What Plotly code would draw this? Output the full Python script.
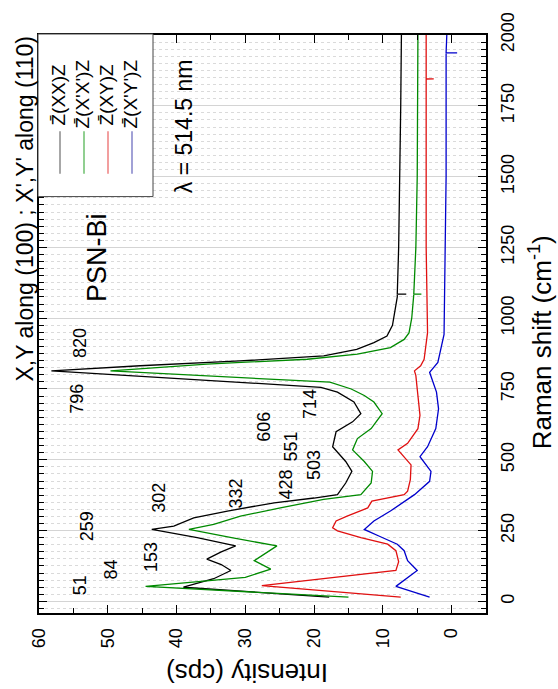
import plotly.graph_objects as go

# ---- data ----
raman_xx = [15, 50, 80, 109, 130, 149, 175, 196, 225, 254, 266, 295, 319, 348, 365, 377, 418, 459, 494, 546, 599, 634, 663, 704, 739, 756, 814, 832, 849, 867, 890, 914, 937, 975, 1075, 1084, 1085, 1086, 1250, 1500, 1750, 2000]
int_xx = [17.8, 39.0, 34.6, 32.1, 33.5, 35.6, 33.5, 31.4, 37.0, 43.6, 40.4, 37.5, 32.6, 25.8, 20.0, 16.6, 15.4, 14.5, 15.4, 17.3, 16.8, 14.4, 13.2, 14.2, 16.6, 19.0, 58.2, 45.3, 30.8, 18.6, 13.8, 11.3, 9.4, 8.6, 7.9, 7.9, 6.6, 7.9, 7.7, 7.5, 7.4, 7.3]

raman_xpxp = [15, 53, 85, 114, 144, 170, 196, 225, 254, 272, 301, 330, 360, 377, 418, 459, 494, 535, 575, 610, 663, 704, 727, 750, 774, 814, 838, 855, 873, 896, 925, 948, 1000, 1084, 1085, 1086, 1250, 1500, 2000]
int_xpxp = [15.0, 44.5, 30.0, 26.3, 28.7, 27.0, 25.4, 32.0, 38.2, 34.6, 30.7, 24.9, 18.6, 13.2, 11.7, 11.5, 12.7, 14.4, 13.7, 11.7, 10.1, 11.3, 12.7, 14.6, 17.7, 49.6, 35.6, 21.0, 13.7, 8.9, 6.9, 6.2, 5.8, 5.5, 4.4, 5.5, 5.2, 5.0, 4.9]

raman_xy = [15, 56, 109, 140, 179, 202, 225, 249, 260, 284, 301, 330, 354, 377, 389, 430, 482, 535, 558, 610, 657, 715, 750, 797, 814, 832, 855, 949, 1250, 1500, 1844, 1845, 1846, 2000]
int_xy = [7.4, 27.6, 8.1, 7.7, 8.1, 9.3, 13.2, 16.6, 17.3, 16.8, 15.2, 12.2, 11.6, 6.9, 6.4, 6.0, 5.9, 7.8, 6.4, 4.9, 4.6, 4.8, 5.0, 5.2, 5.4, 4.5, 4.0, 3.5, 3.7, 3.7, 3.7, 2.6, 3.7, 3.7]

raman_xpyp = [15, 53, 109, 144, 179, 202, 230, 254, 284, 319, 377, 424, 459, 511, 546, 610, 680, 739, 809, 844, 943, 1250, 1500, 1936, 1937, 1938, 2000]
int_xpyp = [3.2, 8.1, 5.0, 6.4, 6.9, 7.9, 10.5, 12.7, 11.3, 8.9, 5.4, 3.2, 3.0, 4.6, 3.5, 2.3, 1.9, 2.2, 3.2, 2.0, 1.1, 0.9, 0.8, 0.8, -0.8, 0.8, 0.7]

series_names = ["Z\u0304(XX)Z", "Z\u0304(X'X')Z", "Z\u0304(XY)Z", "Z\u0304(X'Y')Z"]
series_raman = [raman_xx, raman_xpxp, raman_xy, raman_xpyp]
series_int = [int_xx, int_xpxp, int_xy, int_xpyp]
series_colors = ["#000000", "#008a00", "#e01010", "#0000cc"]
legend_colors = ["#8a8a8a", "#6cbf6c", "#ee7f7f", "#8282c8"]

peak_labels = ["51", "84", "153", "259", "302", "332", "428", "503", "551", "606", "714", "796", "820"]
peak_label_int = [54.0, 49.6, 43.8, 53.0, 42.6, 31.4, 24.1, 20.0, 23.4, 27.3, 20.7, 54.5, 54.0]
peak_label_raman = [58, 111, 158, 266, 365, 380, 412, 482, 546, 616, 698, 715, 913]

int_ticks = [0, 10, 20, 30, 40, 50, 60]
raman_ticks = [0, 250, 500, 750, 1000, 1250, 1500, 1750, 2000]

FONT = "Arial, 'Liberation Sans', sans-serif"

fig = go.Figure()
for nm, rr, ii, col in zip(series_names, series_raman, series_int, series_colors):
    fig.add_trace(go.Scatter(x=ii, y=rr, mode="lines", name=nm,
                             line=dict(color=col, width=1.3), showlegend=False))

# plot area in pixels: x 39..486, y 30..613
L, R, T, B = 39, 486, 30, 613
W, H = R - L, B - T
def px(x):
    return (x - L) / W
def py(y):
    return (B - y) / H

def txt(text, x, y, size, angle=-90):
    return dict(text=text, xref="paper", yref="paper", x=px(x), y=py(y), textangle=angle,
                showarrow=False, xanchor="center", yanchor="middle",
                font=dict(size=size, color="black", family=FONT))

shapes = []
annotations = []
# legend box
shapes.append(dict(type="rect", xref="paper", yref="paper", x0=px(38), x1=px(153), y0=py(193), y1=py(29),
                   fillcolor="white", line=dict(color="#444", width=1), layer="above"))
for k, (nm, lc) in enumerate(zip(series_names, legend_colors)):
    xc = 60 + 24 * k
    shapes.append(dict(type="line", xref="paper", yref="paper", x0=px(xc), x1=px(xc), y0=py(170), y1=py(127),
                       line=dict(color=lc, width=1.5), layer="above"))
    annotations.append(txt(nm, xc - 2, 90, 19))

for t, xi, yr in zip(peak_labels, peak_label_int, peak_label_raman):
    annotations.append(dict(text=t, x=xi, y=yr, xref="x", yref="y", textangle=-90, showarrow=False,
                            xanchor="center", yanchor="middle",
                            font=dict(size=18, color="black", family=FONT)))

annotations += [
    txt("PSN-Bi", 97, 255, 27),
    txt("\u03bb = 514.5 nm", 184, 122, 23),
    txt("X,Y along (100) ; X',Y' along (110)", 25, 206, 23),
    txt("Raman shift (cm<sup>-1</sup>)", 540, 340, 26),
    txt("Intensity (cps)", 247, 673, 26, angle=180),
]

fig.update_layout(
    width=558, height=689,
    margin=dict(l=L, r=558 - R, t=T, b=689 - B),
    paper_bgcolor="white", plot_bgcolor="white",
    font=dict(family=FONT, color="black"),
    shapes=shapes, annotations=annotations,
    xaxis=dict(range=[60, -5], tickvals=int_ticks, ticktext=[str(v) for v in int_ticks],
               tickangle=-90, ticks="inside", ticklen=8, tickwidth=1.2, tickcolor="black",
               showline=True, linecolor="black", linewidth=2, mirror="ticks",
               showgrid=False, zeroline=False, tickfont=dict(size=18), ticklabelstandoff=6,
               minor=dict(dtick=5, tick0=0, ticks="inside", ticklen=5, tickcolor="black", showgrid=False)),
    yaxis=dict(range=[-41, 2000], tickvals=raman_ticks, ticktext=[str(v) for v in raman_ticks],
               side="right", tickangle=-90, ticks="inside", ticklen=8, tickwidth=1.2, tickcolor="black",
               showline=True, linecolor="black", linewidth=2, mirror="ticks",
               showgrid=True, gridcolor="#d4d4d4", gridwidth=1, zeroline=False,
               tickfont=dict(size=18), ticklabelstandoff=4,
               minor=dict(dtick=25, tick0=0, ticks="inside", ticklen=5, tickcolor="black",
                          showgrid=True, gridcolor="#dadada", griddash="dot", gridwidth=1)),
)

fig.write_html("out.html")
